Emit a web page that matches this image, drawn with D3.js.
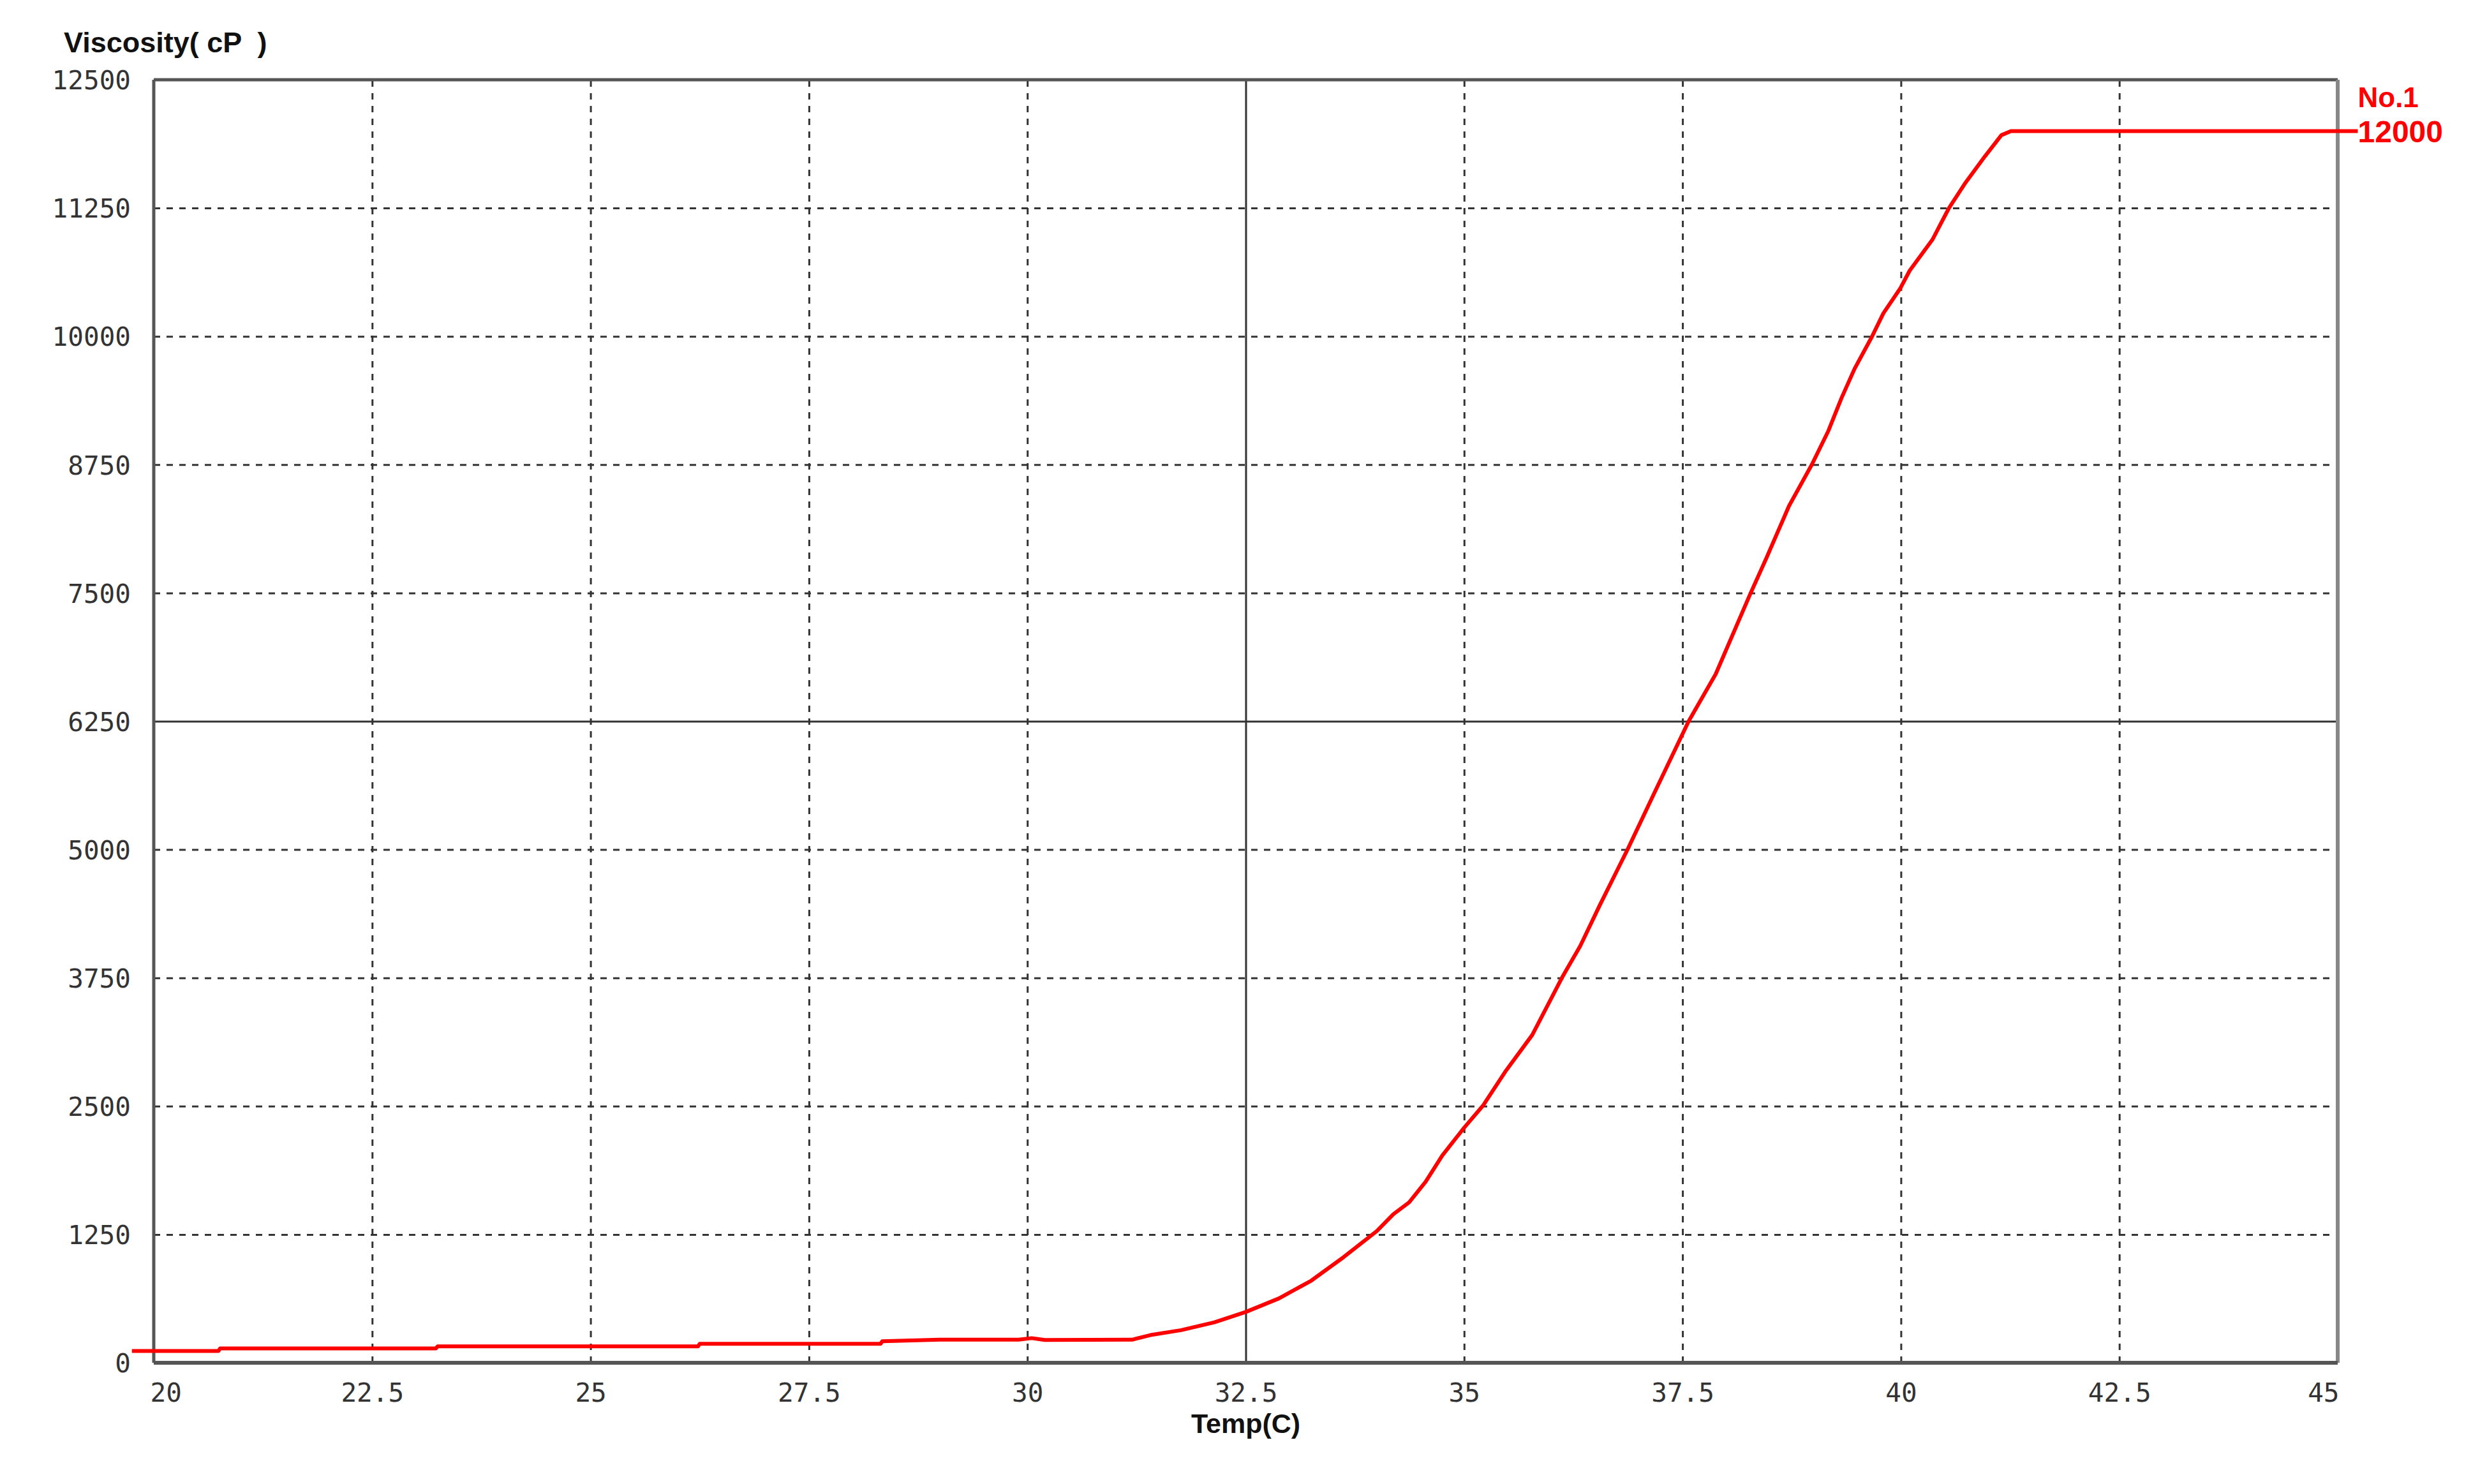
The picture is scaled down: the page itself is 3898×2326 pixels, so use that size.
<!DOCTYPE html>
<html>
<head>
<meta charset="utf-8">
<script src="https://cdn.jsdelivr.net/npm/d3@7/dist/d3.min.js"></script>
<style>
    body { margin: 0; background: #fff; }
    svg { display: block; }
</style>
</head>
<body>
<script>
// 温度 - 粘度 曲线
var width = 3898;
var height = 2326;
// 注意: 不能用 top 作变量名 (window.top)
var plotLeft = 241, plotRight = 3664, plotTop = 125, plotBottom = 2136;

var xTicks = [20, 22.5, 25, 27.5, 30, 32.5, 35, 37.5, 40, 42.5, 45];
var yTicks = [0, 1250, 2500, 3750, 5000, 6250, 7500, 8750, 10000, 11250, 12500];
var temp = [19.75, 20.74, 20.76, 23.23, 23.25, 26.23, 26.25, 28.32, 28.34, 29.0, 29.9, 30.05, 30.2, 31.2,
    31.41, 31.76, 32.14, 32.5, 32.88, 33.25, 33.62, 34.0, 34.19, 34.37, 34.56, 34.75, 35.0, 35.22, 35.48,
    35.78, 36.13, 36.33, 36.55, 36.88, 37.17, 37.57, 37.88, 38.27, 38.46, 38.72, 38.98, 39.17, 39.32,
    39.47, 39.67, 39.8, 39.99, 40.1, 40.36, 40.55, 40.74, 40.96, 41.15, 41.26, 45.23];
var viscosity = [115, 115, 140, 140, 160, 160, 185, 185, 210, 225, 225, 240, 222, 225,
    270, 318, 394, 495, 627, 800, 1029, 1283, 1448, 1562, 1765, 2019, 2290, 2510, 2847,
    3194, 3767, 4062, 4453, 5017, 5538, 6250, 6710, 7480, 7840, 8349, 8750, 9080, 9399,
    9685, 10000, 10226, 10464, 10640, 10941, 11250, 11498, 11752, 11960, 12000, 12000];
var seriesName = "No.1";
var lastValue = "12000";

var svg = d3.select("body").append("svg")
    .attr("width", width)
    .attr("height", height);

var x = d3.scaleLinear().domain([20, 45]).range([plotLeft, plotRight]);
var y = d3.scaleLinear().domain([0, 12500]).range([plotBottom, plotTop]);

// 网格
var gx = svg.append("g")
    .attr("transform", "translate(0," + plotBottom + ")")
    .call(d3.axisBottom(x).tickValues(xTicks).tickSize(-(plotBottom - plotTop)).tickFormat(""));
var gy = svg.append("g")
    .attr("transform", "translate(" + plotLeft + ",0)")
    .call(d3.axisLeft(y).tickValues(yTicks).tickSize(-(plotRight - plotLeft)).tickFormat(""));
[gx, gy].forEach(function (g) {
    g.select(".domain").remove();
    g.selectAll(".tick line")
        .style("stroke", "#333")
        .style("stroke-width", 3)
        .style("stroke-dasharray", function (d) {
            return (d == 32.5 || d == 6250) ? null : "10,10";
        })
        .style("opacity", function (d) {
            return (d == 20 || d == 45 || d == 0 || d == 12500) ? 0 : 1;
        });
});

// 边框
var frame = svg.append("g");
frame.append("line").attr("x1", plotLeft).attr("x2", plotRight).attr("y1", plotTop).attr("y2", plotTop)
    .style("stroke", "#555").style("stroke-width", 5);
frame.append("line").attr("x1", plotRight).attr("x2", plotRight).attr("y1", plotTop).attr("y2", plotBottom)
    .style("stroke", "#888").style("stroke-width", 6);
frame.append("line").attr("x1", plotLeft).attr("x2", plotLeft).attr("y1", plotTop).attr("y2", plotBottom)
    .style("stroke", "#555").style("stroke-width", 5);
frame.append("line").attr("x1", plotLeft).attr("x2", plotRight).attr("y1", plotBottom).attr("y2", plotBottom)
    .style("stroke", "#555").style("stroke-width", 6);

// 刻度文字
var fmtX = function (d) { return d % 1 ? d.toFixed(1) : String(d); };
var ax = svg.append("g")
    .attr("transform", "translate(0," + plotBottom + ")")
    .call(d3.axisBottom(x).tickValues(xTicks).tickSize(0).tickPadding(0).tickFormat(fmtX));
ax.select(".domain").remove();
ax.selectAll("text")
    .attr("y", 61)
    .attr("dy", null)
    .style("font-family", "'DejaVu Sans Mono', monospace")
    .style("font-size", "41px")
    .style("fill", "#333")
    .attr("text-anchor", function (d) {
        if (d == 20) return "start";
        if (d == 45) return "end";
        return "middle";
    })
    .attr("x", function (d) { return d == 20 ? -6 : (d == 45 ? 2 : 0); });

var ay = svg.append("g")
    .attr("transform", "translate(" + plotLeft + ",0)")
    .call(d3.axisLeft(y).tickValues(yTicks).tickSize(0).tickPadding(36).tickFormat(d3.format("d")));
ay.select(".domain").remove();
ay.selectAll("text")
    .attr("dy", "0.36em")
    .style("font-family", "'DejaVu Sans Mono', monospace")
    .style("font-size", "41px")
    .style("fill", "#333");

// 标题
svg.append("text")
    .attr("x", 100).attr("y", 82)
    .text("Viscosity( cP  )")
    .style("font-family", "'Liberation Sans', Arial, sans-serif")
    .style("font-weight", "bold")
    .style("font-size", "45px")
    .style("white-space", "pre")
    .style("fill", "#111");
svg.append("text")
    .attr("x", x(32.5)).attr("y", 2246)
    .attr("text-anchor", "middle")
    .text("Temp(C)")
    .style("font-family", "'Liberation Sans', Arial, sans-serif")
    .style("font-weight", "bold")
    .style("font-size", "43px")
    .style("fill", "#111");

// 曲线
var pts = temp.map(function (t, i) { return [t, viscosity[i]]; });
var line = d3.line()
    .x(function (d) { return x(d[0]); })
    .y(function (d) { return y(d[1]); });
svg.append("path")
    .datum(pts)
    .attr("d", line)
    .style("fill", "none")
    .style("stroke", "#ff0000")
    .style("stroke-width", 6)
    .style("stroke-linejoin", "round");

// 图例
var lastX = x(temp[temp.length - 1]);
svg.append("text")
    .attr("x", lastX).attr("y", 168)
    .text(seriesName)
    .style("font-family", "'Liberation Sans', Arial, sans-serif")
    .style("font-weight", "bold")
    .style("font-size", "44px")
    .style("fill", "#ff0000");
svg.append("text")
    .attr("x", lastX).attr("y", y(viscosity[viscosity.length - 1]))
    .attr("dy", "0.36em")
    .text(lastValue)
    .style("font-family", "'Liberation Sans', Arial, sans-serif")
    .style("font-weight", "bold")
    .style("font-size", "48px")
    .style("fill", "#ff0000");
</script>
</body>
</html>
